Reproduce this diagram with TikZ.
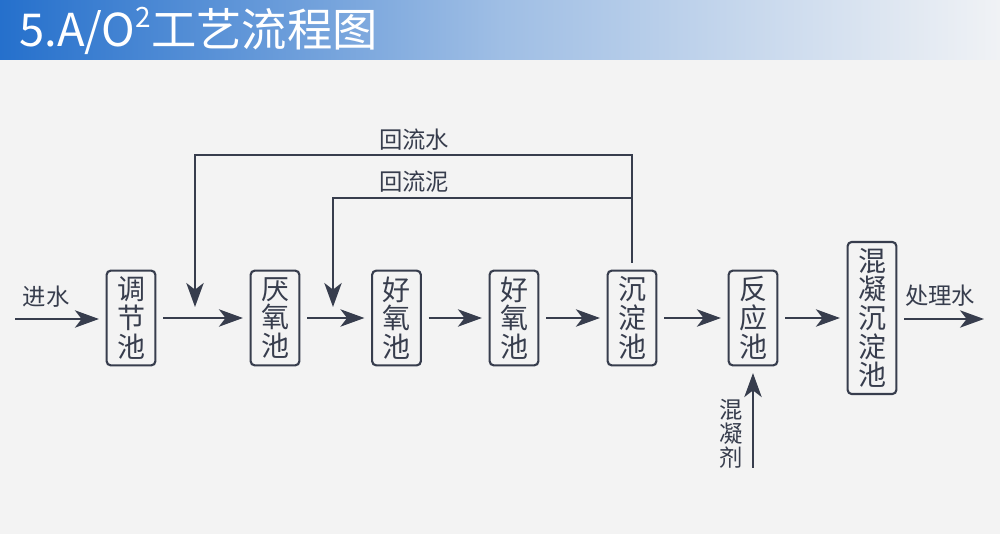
\documentclass[tikz,border=0pt]{standalone}
\usepackage{fontspec}
\newfontfamily\cjk{Noto Sans CJK SC}
\usetikzlibrary{arrows.meta}
\definecolor{bg}{HTML}{F3F3F3}
\definecolor{ink}{HTML}{373D4D}
\definecolor{hdL}{HTML}{2570CC}
\definecolor{hdR}{HTML}{F0F2F5}
\tikzset{
  box/.style={draw=ink, line width=1.6pt, rounded corners=3pt, fill=none,
    minimum width=36.5pt, align=center, inner sep=0pt,
    font=\cjk\fontsize{21}{21.5}\selectfont, text=ink},
  arr/.style={draw=ink, line width=1.6pt, -{Stealth[length=18pt,width=13pt,inset=5pt]}},
  lab/.style={font=\cjk\fontsize{17.5}{18}\selectfont, text=ink, inner sep=0pt},
}
\begin{document}
\begin{tikzpicture}[x=0.75pt,y=-0.75pt]
\useasboundingbox (0,0) rectangle (1000,534);
\fill[bg] (0,0) rectangle (1000,534);
\shade[left color=hdL, right color=hdR, middle color=hdL!40!hdR] (0,0) rectangle (1000,60);
\node[anchor=west, inner sep=0pt, text=white] (title) at (19,31)
  {\cjk\fontsize{34}{36}\selectfont 5.A/O\raisebox{0.42em}{\fontsize{21}{22}\selectfont 2}工艺流程图};

\node[box, minimum height=71pt] (tj) at (131,318) {调\\节\\池};
\node[box, minimum height=71pt] (ya) at (275,318) {厌\\氧\\池};
\node[box, minimum height=71pt] (hy1) at (396.5,318) {好\\氧\\池};
\node[box, minimum height=71pt] (hy2) at (514,318) {好\\氧\\池};
\node[box, minimum height=71pt] (cd) at (632,318) {沉\\淀\\池};
\node[box, minimum height=71pt] (fy) at (753,318) {反\\应\\池};
\node[box, minimum height=114pt] (hn) at (872,318) {混\\凝\\沉\\淀\\池};

\coordinate (in) at (15,319);
\coordinate (out) at (984,319);
\coordinate (top1) at (632,155);
\coordinate (top2) at (632,198);
\coordinate (w1) at (195,307);
\coordinate (w2) at (333,307);
\coordinate (agent) at (753,468);

\draw[arr] (in) -- ([xshift=-5pt]tj.west |- in);
\draw[arr, shorten <=5pt, shorten >=5pt] (tj) -- (ya);
\draw[arr, shorten <=5pt, shorten >=5pt] (ya) -- (hy1);
\draw[arr, shorten <=5pt, shorten >=5pt] (hy1) -- (hy2);
\draw[arr, shorten <=5pt, shorten >=5pt] (hy2) -- (cd);
\draw[arr, shorten <=5pt, shorten >=5pt] (cd) -- (fy);
\draw[arr, shorten <=5pt, shorten >=5pt] (fy) -- (hn);
\draw[arr] ([xshift=5pt]hn.east |- out) -- (out);
\draw[arr] ([yshift=5pt]cd.north) -- (top1) -| (w1);
\draw[arr] (top2) -| (w2);
\draw[arr] (agent) -- ([yshift=-5pt]fy.south);

\node[lab] (l1) at (414,140) {回流水};
\node[lab] (l2) at (414,182) {回流泥};
\node[lab] (l3) at (46,297) {进水};
\node[lab] (l4) at (940,296) {处理水};
\node[lab, align=center, font=\cjk\fontsize{17.5}{18}\selectfont] (l5) at (731,434) {混\\凝\\剂};
\end{tikzpicture}
\end{document}
